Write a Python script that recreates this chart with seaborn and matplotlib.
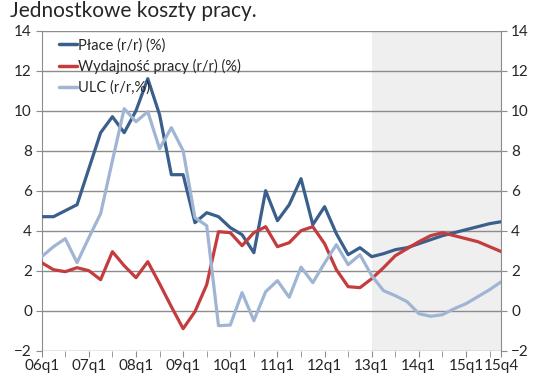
import numpy as np
import pandas as pd
import matplotlib
matplotlib.use('Agg')
import matplotlib.pyplot as plt
import seaborn as sns

# kwartaly 06q1 .. 15q4
years = ['06', '07', '08', '09', '10', '11', '12', '13', '14', '15']
quarters = [y + 'q' + str(q) for y in years for q in range(1, 5)]

place = [4.7, 4.7, 5.0, 5.3, 7.1, 8.9, 9.7, 8.9, 10.0, 11.6,
         9.8, 6.8, 6.8, 4.4, 4.9, 4.7, 4.15, 3.8, 2.9, 6.0,
         4.5, 5.3, 6.6, 4.3, 5.2, 3.85, 2.8, 3.15, 2.7, 2.85,
         3.05, 3.15, 3.35, 3.55, 3.75, 3.9, 4.05, 4.2, 4.35, 4.45]

wydajnosc = [2.4, 2.05, 1.95, 2.15, 2.0, 1.55, 2.95, 2.25, 1.65, 2.45,
             1.35, 0.2, -0.9, -0.05, 1.3, 3.95, 3.9, 3.25, 3.9, 4.2,
             3.2, 3.4, 4.0, 4.2, 3.35, 2.05, 1.2, 1.15, 1.6, 2.15,
             2.75, 3.1, 3.45, 3.75, 3.9, 3.75, 3.6, 3.45, 3.2, 2.95]

ulc = [2.7, 3.2, 3.6, 2.4, 3.65, 4.85, 7.5, 10.1, 9.45, 9.95,
       8.1, 9.15, 8.0, 4.65, 4.25, -0.75, -0.72, 0.9, -0.5, 0.95,
       1.5, 0.67, 2.18, 1.4, 2.38, 3.3, 2.3, 2.8, 1.75, 1.0,
       0.75, 0.45, -0.15, -0.28, -0.2, 0.1, 0.35, 0.7, 1.05, 1.45]

series_names = ['Płace (r/r) (%)', 'Wydajność pracy (r/r) (%)', 'ULC (r/r,%)']
colors = ['#3b5f8c', '#c43c3d', '#9fb5d3']
forecast_start = '13q1'

label_quarters = [y + 'q1' for y in years] + ['15q4']

df = pd.DataFrame({'kw': np.arange(len(quarters)),
                   series_names[0]: place,
                   series_names[1]: wydajnosc,
                   series_names[2]: ulc})
long_df = df.melt(id_vars='kw', var_name='seria', value_name='wartosc')

sns.set_style('white')
plt.rcParams['font.family'] = ['Lato', 'DejaVu Sans']

fig = plt.figure(figsize=(5.45, 3.86), dpi=100)
ax = fig.add_axes([0.0765, 0.0915, 0.8435, 0.829])

grid_c = '#8c8c8c'
ax.axvspan(quarters.index(forecast_start), len(quarters) - 1,
           color='#efefef', zorder=0.2, lw=0)

sns.lineplot(data=long_df, x='kw', y='wartosc', hue='seria',
             palette=dict(zip(series_names, colors)), linewidth=2.3,
             ax=ax, zorder=3)

ax.set_xlim(0, len(quarters) - 1)
ax.set_ylim(-2, 14)
ax.set_yticks(range(-2, 15, 2))
ax.yaxis.grid(True, color=grid_c, lw=1.0)
ax.set_axisbelow(True)

pos = [quarters.index(q) for q in label_quarters]
ax.set_xticks(pos)
ax.set_xticklabels(label_quarters)
ax.set_xticks([i for i in range(0, len(quarters), 2) if i not in pos], minor=True)
ax.tick_params(axis='x', which='both', direction='out', length=4, color=grid_c,
               bottom=True, labelsize=11, pad=2)
ax.tick_params(axis='y', direction='out', length=4, color=grid_c, left=True,
               labelsize=11, pad=3)
ax.set_xlabel('')
ax.set_ylabel('')

for s in ['top', 'bottom']:
    ax.spines[s].set_visible(False)
for s in ['left', 'right']:
    ax.spines[s].set_color(grid_c)

ax2 = ax.twinx()
ax2.set_ylim(-2, 14)
ax2.set_yticks(range(-2, 15, 2))
ax2.tick_params(axis='y', direction='out', length=4, color=grid_c, right=True,
                labelsize=11, pad=3)
for s in ax2.spines.values():
    s.set_visible(False)

leg = ax.legend(loc='upper left', bbox_to_anchor=(0.025, 0.995), frameon=False,
                fontsize=10.5, handlelength=1.2, handletextpad=0.1,
                labelspacing=0.45, borderaxespad=0)
for h in leg.get_lines():
    h.set_linewidth(2.5)

fig.text(0.018, 0.998, 'Jednostkowe koszty pracy.', ha='left', va='top',
         fontsize=15)

fig.savefig('out.png', dpi=100)
